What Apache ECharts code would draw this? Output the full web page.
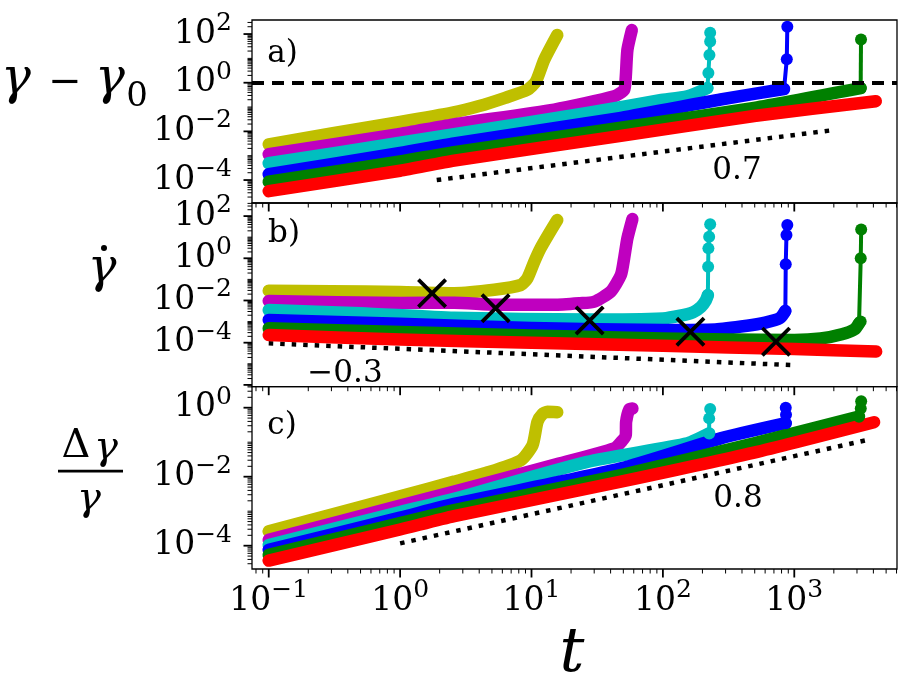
<!DOCTYPE html>
<html><head><meta charset="utf-8">
<script src="https://cdn.jsdelivr.net/npm/echarts@6/dist/echarts.min.js"></script>
<style>html,body{margin:0;padding:0;background:#fff}#c{width:908px;height:690px}</style>
</head><body><div id="c"></div><script>
// ---------------- data ----------------
const curveNames = ['yellow', 'magenta', 'cyan', 'blue', 'green', 'red'];
const curveColors = ['#bfbf00', '#bf00bf', '#00bfbf', '#0000ff', '#008000', '#ff0000'];

// panel a) gamma - gamma0 : [t, value]
const aYellow = [[0.1,2.95e-3],[0.3,8.3e-3],[1,2.45e-2],[2.5,5.9e-2],[4,0.11],[6.3,0.24],[9.3,0.51],[10.8,1.12],[12.5,8.7],[15.7,91]];
const aMagenta = [[0.1,1.15e-3],[1,7.9e-3],[2.5,1.9e-2],[14.9,7.9e-2],[42.6,0.275],[50.7,0.51],[52.2,1.82],[53.7,22.4],[58,145]];
const aCyan = [[0.1,4.9e-4],[1,3.4e-3],[2.58,7.6e-3],[26.6,5.75e-2],[95,0.19],[153.5,0.275],[218,0.6]];
const aCyanTail = [[218,0.6],[222,2.5],[226,13.8],[229,49],[229,112]];
const aBlue = [[0.1,1.74e-4],[1,1.29e-3],[2.58,3.2e-3],[47.9,3.6e-2],[275,0.204],[836,0.55]];
const aBlueTail = [[836,0.55],[877,9.3],[885,200]];
const aGreen = [[0.1,8.5e-5],[1,5.8e-4],[2.58,1.41e-3],[47.9,1.41e-2],[494,9.3e-2],[3200,0.6]];
const aGreenTail = [[3200,0.6],[3220,60]];
const aRed = [[0.1,3.5e-5],[1,2.4e-4],[2.58,6.3e-4],[47.9,6.5e-3],[494,4.3e-2],[4170,0.174]];
const aGuide = [[1.9,1.0e-4],[2010,1.14e-2]];
const aThreshold = 1;

// panel b) gamma dot
const bYellow = [[0.1,2.9e-2],[0.3,2.75e-2],[1,2.5e-2],[2.58,2.2e-2],[5.2,3.2e-2],[8.3,5.4e-2],[9.3,0.112],[10.5,0.69],[11.7,2.95],[13.6,15],[15.7,65]];
const bMagenta = [[0.1,9.5e-3],[1,7.6e-3],[2.58,7.9e-3],[5.3,6.3e-3],[14.9,6.2e-3],[23.4,7.4e-3],[30,8.7e-3],[40,2.6e-2],[47.9,0.162],[50.7,1.0],[53.7,8.9],[58.6,72]];
const bCyan = [[0.1,3.5e-3],[0.5,2.5e-3],[2.58,1.5e-3],[27.7,1.26e-3],[100,1.41e-3],[135,1.9e-3],[170,2.8e-3],[195,5.0e-3],[212,1.0e-2],[220,1.8e-2]];
const bCyanTail = [[220,1.8e-2],[221,0.4],[222,2.95],[225,10.5],[229,41]];
const bBlue = [[0.1,1.2e-3],[1,7.9e-4],[10,5.0e-4],[100,4.0e-4],[250,4.2e-4],[437,6.3e-4],[600,8.9e-4],[776,1.45e-3],[855,3.2e-3]];
const bBlueTail = [[855,3.2e-3],[861,0.52],[872,12.6],[885,38]];
const bGreen = [[0.1,4.8e-4],[1,3.2e-4],[10,2.2e-4],[100,1.58e-4],[1000,1.35e-4],[1585,1.58e-4],[2300,2.5e-4],[2900,4.5e-4],[3110,8.3e-4]];
const bGreenTail = [[3110,8.3e-4],[3200,1.0e-3],[3205,1.0],[3230,23]];
const bRed = [[0.1,2.3e-4],[1,1.4e-4],[10,1.0e-4],[100,7.1e-5],[1000,5.0e-5],[4200,3.8e-5]];
const bGuide = [[0.1,9.3e-5],[940,8.7e-6]];
const crossT = [1.75, 5.33, 27.7, 162, 726];
const crossV = [2.19e-2, 4.25e-3, 1.13e-3, 3.3e-4, 1.12e-4];

// panel c) delta gamma / gamma
const cYellow = [[0.1,2.6e-4],[1,2.7e-3],[2.58,7.2e-3],[4.6,1.32e-2],[8.3,3.0e-2],[10.2,8.3e-2],[11.1,0.39],[12.1,0.65],[13.2,0.76],[15.7,0.74]];
const cMagenta = [[0.1,1.48e-4],[1,1.45e-3],[2.58,3.7e-3],[14.9,2.2e-2],[42.6,6.6e-2],[49,0.11],[52.2,0.162],[52.5,0.39],[55.6,0.91],[58.6,0.95]];
const cCyan = [[0.1,1.05e-4],[1,9.5e-4],[2.58,2.3e-3],[26.6,2.7e-2],[153.5,9.3e-2],[225,0.18]];
const cCyanTail = [[225,0.18],[225,0.49],[229,0.91]];
const cBlue = [[0.1,7.6e-5],[1,6.5e-4],[2.58,1.62e-3],[47.9,1.74e-2],[275,0.129],[861,0.355]];
const cBlueTail = [[861,0.355],[865,0.62],[861,1.0]];
const cGreen = [[0.1,5.4e-5],[1,4.5e-4],[2.58,1.07e-3],[47.9,1.12e-2],[494,9.3e-2],[3110,0.55]];
const cGreenTail = [[3110,0.55],[3206,0.95],[3230,1.55]];
const cRed = [[0.1,3.7e-5],[1,2.95e-4],[2.58,7.2e-4],[47.9,7.2e-3],[494,5.0e-2],[4050,0.38]];
const cGuide = [[1,1.17e-4],[3600,0.116]];

const guideLabels = ['0.7', '\u22120.3', '0.8'];
const panelLabels = ['a)', 'b)', 'c)'];

// tick labels (exponents of 10)
const xLabelExps = [-1, 0, 1, 2, 3];
const yLabelExps = [[-4, -2, 0, 2], [-4, -2, 0, 2], [-4, -2, 0]];

// axis ranges
const xMin = 0.0746, xMax = 6050;
const yRanges = [[1.14e-5, 378], [8.2e-7, 417], [2.11e-5, 4.06]];

// ---------------- build ----------------
const bands = [
  [aYellow, aMagenta, aCyan, aBlue, aGreen, aRed],
  [bYellow, bMagenta, bCyan, bBlue, bGreen, bRed],
  [cYellow, cMagenta, cCyan, cBlue, cGreen, cRed]
];
const tails = [
  [null, null, aCyanTail, aBlueTail, aGreenTail, null],
  [null, null, bCyanTail, bBlueTail, bGreenTail, null],
  [null, null, cCyanTail, cBlueTail, cGreenTail, null]
];
const guides = [aGuide, bGuide, cGuide];

const FONT = 'DejaVu Serif';
const gridTops = [20, 203, 386.7];
const gridHeights = [183, 183.7, 182.3];

function logSteps(min, max) {
  const out = [];
  for (let e = Math.floor(Math.log10(min)); e <= Math.ceil(Math.log10(max)); e++) {
    for (let k = 1; k <= 9; k++) {
      const v = k * Math.pow(10, e);
      if (v >= min * 0.9999 && v <= max * 1.0001) out.push([v, k, e]);
    }
  }
  return out;
}
function tickData(p) {
  const ymin = yRanges[p][0], ymax = yRanges[p][1];
  const d = [];
  logSteps(xMin, xMax).forEach(s => d.push([s[0], ymin, 0, s[1] === 1 ? 1 : 0]));
  logSteps(ymin, ymax).forEach(s => d.push([xMin, s[0], 1, (s[1] === 1 && Math.abs(s[2] % 2) === 0) ? 1 : 0]));
  return d;
}
function tickRender(params, api) {
  const kind = api.value(2), major = api.value(3);
  const p = api.coord([api.value(0), api.value(1)]);
  const len = major ? 8.5 : 4.5;
  const shape = kind === 0
    ? { x1: p[0], y1: p[1], x2: p[0], y2: p[1] + len }
    : { x1: p[0], y1: p[1], x2: p[0] - len, y2: p[1] };
  return { type: 'line', shape: shape, style: { stroke: '#000', lineWidth: major ? 1.8 : 1 } };
}
function expLabel(v, allowed) {
  const e = Math.log10(v);
  const r = Math.round(e);
  if (Math.abs(e - r) > 1e-6) return '';
  if (allowed.indexOf(r) < 0) return '';
  return '{b|10}{s|' + (r < 0 ? '\u2212' : '') + Math.abs(r) + '}';
}
const richLbl = {
  b: { fontFamily: FONT, fontSize: 33, lineHeight: 46, color: '#000' },
  s: { fontFamily: FONT, fontSize: 25, lineHeight: 25, verticalAlign: 'top', color: '#000' }
};

const grids = [], xAxes = [], yAxes = [], series = [];
for (let p = 0; p < 3; p++) {
  grids.push({ left: 252, right: 11, top: gridTops[p], height: gridHeights[p], show: true,
    borderColor: '#000', borderWidth: 1.3, backgroundColor: 'transparent', containLabel: false });
  xAxes.push({ type: 'log', logBase: 10, gridIndex: p, min: xMin, max: xMax, splitNumber: 10,
    axisLine: { show: false }, axisTick: { show: false }, splitLine: { show: false },
    axisLabel: { show: p === 2, margin: 9, fontFamily: FONT, formatter: v => expLabel(v, xLabelExps), rich: richLbl } });
  const yExps = yLabelExps[p];
  yAxes.push({ type: 'log', logBase: 10, gridIndex: p, min: yRanges[p][0], max: yRanges[p][1], splitNumber: 10,
    axisLine: { show: false }, axisTick: { show: false }, splitLine: { show: false },
    axisLabel: { show: true, margin: 20, fontFamily: FONT, formatter: v => expLabel(v, yExps), rich: richLbl } });

  series.push({ type: 'custom', xAxisIndex: p, yAxisIndex: p, data: tickData(p), renderItem: tickRender,
    encode: { x: 0, y: 1 }, clip: false, silent: true, z: 5 });

  const guide = { type: 'line', xAxisIndex: p, yAxisIndex: p, data: guides[p], showSymbol: false, symbol: 'none',
    lineStyle: { color: '#000', width: 4.5, type: [4.5, 7], cap: 'butt' }, silent: true, z: 2 };
  if (p === 0) {
    guide.markLine = { symbol: 'none', silent: true, label: { show: false },
      lineStyle: { color: '#000', width: 4, type: [12, 8], opacity: 1 },
      data: [{ yAxis: aThreshold }] };
  }
  series.push(guide);

  for (let c = 0; c < 6; c++) {
    series.push({ type: 'line', name: curveNames[c], xAxisIndex: p, yAxisIndex: p, data: bands[p][c],
      showSymbol: false, symbol: 'none', smooth: 0.2,
      lineStyle: { color: curveColors[c], width: 12.5, cap: 'round', join: 'round' }, z: 3 });
    if (tails[p][c]) {
      series.push({ type: 'line', name: curveNames[c] + ' tail', xAxisIndex: p, yAxisIndex: p, data: tails[p][c],
        symbol: 'circle', symbolSize: 12, showSymbol: true, showAllSymbol: true,
        itemStyle: { color: curveColors[c], opacity: 1 },
        lineStyle: { color: curveColors[c], width: 4 }, z: 3 });
    }
  }
  if (p === 1) {
    series.push({ type: 'scatter', xAxisIndex: 1, yAxisIndex: 1,
      data: crossT.map((t, i) => [t, crossV[i]]),
      symbol: 'path://M0,0.9L0.9,0L10,9.1L9.1,10ZM9.1,0L10,0.9L0.9,10L0,9.1Z', symbolSize: 30,
      itemStyle: { color: '#000', opacity: 1 }, z: 6 });
  }
}

function T(x, y, text, size, italic) {
  return { type: 'text', x: x, y: y, silent: true, z: 10,
    style: { text: text, fontFamily: FONT, fontSize: size, fontStyle: italic ? 'italic' : 'normal', fill: '#000',
      align: 'center', verticalAlign: 'middle', textAlign: 'center', textVerticalAlign: 'middle' } };
}
const graphics = [
  // y label a:  gamma - gamma_0
  T(16, 80, '\u03b3', 50, true),
  T(65, 84, '\u2212', 40, false),
  T(110, 80, '\u03b3', 50, true),
  T(137, 97, '0', 34, false),
  // y label b:  gamma dot
  T(102, 270, '\u03b3', 48, true),
  { type: 'circle', shape: { cx: 104, cy: 248, r: 3 }, style: { fill: '#000' }, silent: true, z: 10 },
  // y label c:  delta gamma / gamma
  T(76, 447, '\u0394', 40, false),
  T(106, 449, '\u03b3', 40, true),
  { type: 'rect', shape: { x: 58, y: 469.8, width: 65, height: 2.6 }, style: { fill: '#000' }, silent: true, z: 10 },
  T(89, 500, '\u03b3', 40, true),
  // x label
  T(572, 655, 't', 62, true),
  // panel labels
  T(282.5, 54, panelLabels[0], 31, false),
  T(284, 234, panelLabels[1], 31, false),
  T(282, 426, panelLabels[2], 31, false),
  // slope labels
  T(737, 171, guideLabels[0], 31, false),
  T(345, 374, guideLabels[1], 31, false),
  T(738, 499, guideLabels[2], 31, false)
];

const chart = echarts.init(document.getElementById('c'), null, { renderer: 'canvas' });
chart.setOption({
  animation: false,
  backgroundColor: '#fff',
  grid: grids, xAxis: xAxes, yAxis: yAxes, series: series,
  graphic: graphics
});
</script></body></html>
